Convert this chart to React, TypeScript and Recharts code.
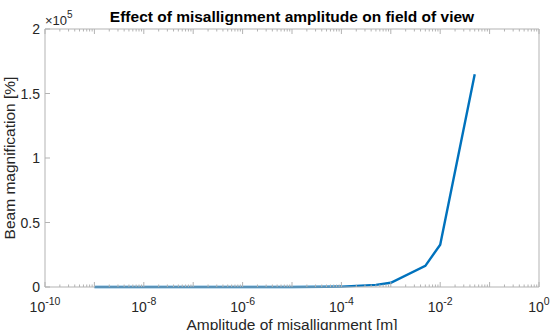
import React from 'react';
import { LineChart, Line, XAxis, YAxis } from 'recharts';

const amplitudes = [1e-9, 5e-9, 1e-8, 5e-8, 1e-7, 5e-7, 1e-6, 5e-6, 1e-5, 5e-5, 1e-4, 5e-4, 1e-3, 5e-3, 1e-2, 5e-2];
const magnification = [0.003, 0.016, 0.033, 0.16, 0.33, 1.6, 3.3, 16, 33, 160, 330, 1650, 3300, 16400, 32800, 165000];

const xMajorExponents = [-10, -9, -8, -7, -6, -5, -4, -3, -2, -1, 0];
const xLabelExponents = [-10, -8, -6, -4, -2, 0];
const yTicks = [0, 50000, 100000, 150000, 200000];
const yTickLabels = ['0', '0.5', '1', '1.5', '2'];

const title = 'Effect of misallignment amplitude on field of view';
const xLabel = 'Amplitude of misallignment [m]';
const yLabel = 'Beam magnification [%]';

const data = amplitudes.map((a, i) => ({ a, m: magnification[i] }));

const xTicks: number[] = [];
xMajorExponents.forEach((e) => {
  xTicks.push(Math.pow(10, e));
  if (e < 0) {
    for (let k = 2; k <= 9; k++) xTicks.push(k * Math.pow(10, e));
  }
});

const W = 552;
const H = 330;
const L = 45;
const R = 539;
const T = 29;
const B = 287;

const BOTTOM_AXIS_H = 30;
const TOP_AXIS_H = 5;
const LEFT_AXIS_W = 40;
const RIGHT_AXIS_W = 5;

const AXIS = '#b3b3b3';
const TEXT = '#262626';
const FONT = '"Liberation Sans", Arial, Helvetica, sans-serif';

function tickInfo(v: number) {
  const lg = Math.log10(v);
  const e = Math.round(lg);
  const major = Math.abs(lg - e) < 1e-6;
  return { e, major };
}

const XTickBottom = (props: any) => {
  const { x, y, payload } = props;
  const { e, major } = tickInfo(payload.value);
  const len = major ? 5 : 2.5;
  const showLabel = major && xLabelExponents.includes(e);
  return (
    <g>
      <line x1={x} x2={x} y1={y} y2={y - len} stroke={AXIS} strokeWidth={1} />
      {showLabel && (
        <text x={x} y={y + 25} textAnchor="middle" fill={TEXT} fontSize={14} fontFamily={FONT}>
          10
          <tspan dy={-7} fontSize={10.5}>{e}</tspan>
        </text>
      )}
    </g>
  );
};

const XTickTop = (props: any) => {
  const { x, y, payload } = props;
  const { major } = tickInfo(payload.value);
  const len = major ? 5 : 2.5;
  return <line x1={x} x2={x} y1={y} y2={y + len} stroke={AXIS} strokeWidth={1} />;
};

const YTickLeft = (props: any) => {
  const { x, y, payload, index } = props;
  const i = yTicks.indexOf(payload.value);
  return (
    <g>
      <line x1={x} x2={x + 5} y1={y} y2={y} stroke={AXIS} strokeWidth={1} />
      <text x={x - 5} y={y} dy={5} textAnchor="end" fill={TEXT} fontSize={14} fontFamily={FONT}>
        {yTickLabels[i >= 0 ? i : index]}
      </text>
    </g>
  );
};

const YTickRight = (props: any) => {
  const { x, y } = props;
  return <line x1={x} x2={x - 5} y1={y} y2={y} stroke={AXIS} strokeWidth={1} />;
};

export default function App() {
  return (
    <div style={{ position: 'fixed', left: 0, top: 0, width: W, height: H, background: '#fff' }}>
      <LineChart
        width={W}
        height={H}
        data={data}
        margin={{
          top: T - TOP_AXIS_H,
          left: L - LEFT_AXIS_W,
          right: W - R - RIGHT_AXIS_W,
          bottom: H - B - BOTTOM_AXIS_H,
        }}
        style={{ fontFamily: FONT }}
      >
        <XAxis
          dataKey="a"
          type="number"
          scale="log"
          domain={[1e-10, 1]}
          ticks={xTicks}
          interval={0}
          allowDataOverflow
          height={BOTTOM_AXIS_H}
          tickSize={0}
          tickMargin={0}
          tickLine={false}
          axisLine={{ stroke: AXIS, strokeWidth: 1 }}
          tick={<XTickBottom />}
        />
        <XAxis
          xAxisId="top"
          orientation="top"
          dataKey="a"
          type="number"
          scale="log"
          domain={[1e-10, 1]}
          ticks={xTicks}
          interval={0}
          allowDataOverflow
          height={TOP_AXIS_H}
          tickSize={0}
          tickMargin={0}
          tickLine={false}
          axisLine={{ stroke: AXIS, strokeWidth: 1 }}
          tick={<XTickTop />}
        />
        <YAxis
          type="number"
          domain={[0, 200000]}
          ticks={yTicks}
          interval={0}
          width={LEFT_AXIS_W}
          tickSize={0}
          tickMargin={0}
          tickLine={false}
          axisLine={{ stroke: AXIS, strokeWidth: 1 }}
          tick={<YTickLeft />}
        />
        <YAxis
          yAxisId="right"
          orientation="right"
          type="number"
          domain={[0, 200000]}
          ticks={yTicks}
          interval={0}
          width={RIGHT_AXIS_W}
          tickSize={0}
          tickMargin={0}
          tickLine={false}
          axisLine={{ stroke: AXIS, strokeWidth: 1 }}
          tick={<YTickRight />}
        />
        <Line
          dataKey="m"
          type="linear"
          stroke="#0072BD"
          strokeWidth={2.4}
          dot={false}
          isAnimationActive={false}
        />
        <text x={(L + R) / 2} y={21.5} textAnchor="middle" fontWeight="bold" fontSize={15.5} fill="#000" fontFamily={FONT}>
          {title}
        </text>
        <text x={L} y={24.5} fill={TEXT} fontSize={13} fontFamily={FONT}>
          ×10
          <tspan dy={-7} fontSize={10}>5</tspan>
        </text>
        <text x={(L + R) / 2} y={330} textAnchor="middle" fill={TEXT} fontSize={15.5} fontFamily={FONT}>
          {xLabel}
        </text>
        <text
          x={14.5}
          y={(T + B) / 2}
          textAnchor="middle"
          fill={TEXT}
          fontSize={15.5}
          fontFamily={FONT}
          transform={`rotate(-90 14.5 ${(T + B) / 2})`}
        >
          {yLabel}
        </text>
      </LineChart>
    </div>
  );
}
